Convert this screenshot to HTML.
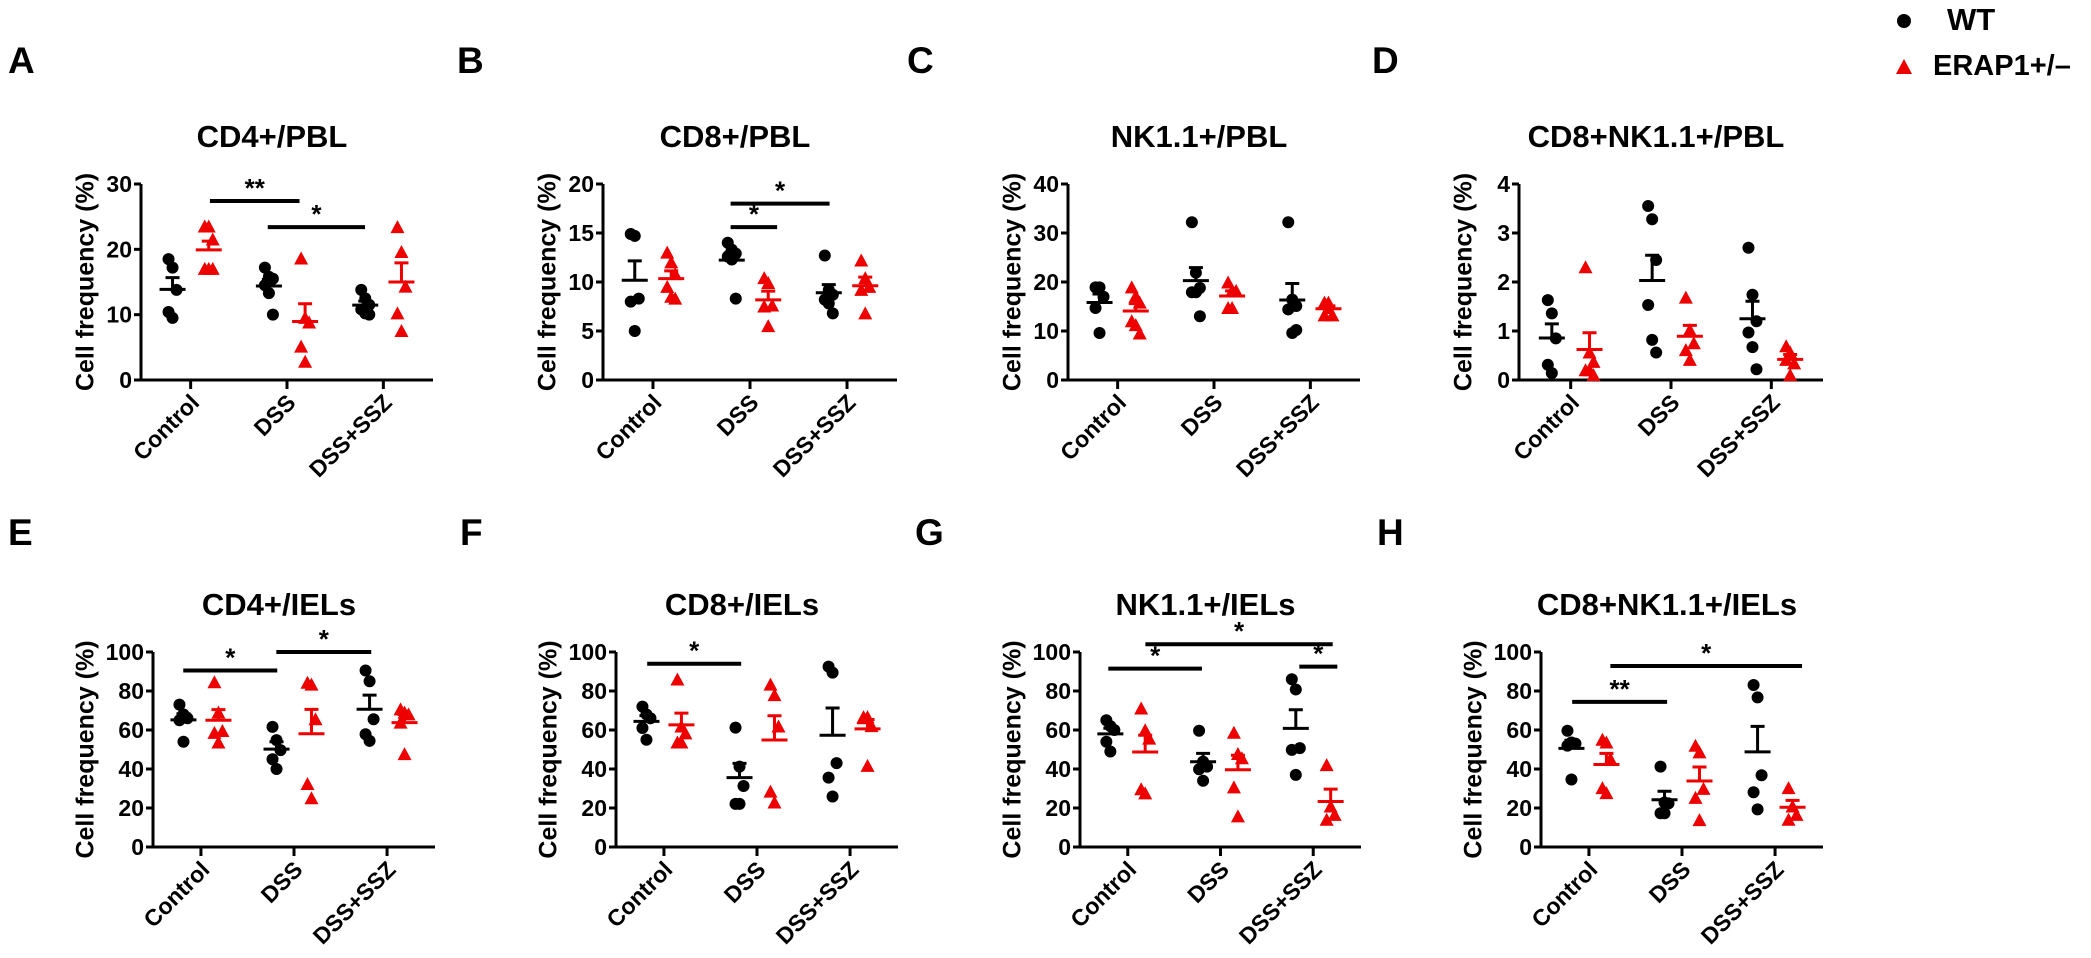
<!DOCTYPE html>
<html><head><meta charset="utf-8">
<style>
html,body{margin:0;padding:0;background:#fff;}
svg{display:block;font-family:"Liberation Sans",Arial,sans-serif;font-weight:bold;}
</style></head>
<body>
<svg id="fig" width="2091" height="958" viewBox="0 0 2091 958" xmlns="http://www.w3.org/2000/svg">
<g>
  <circle cx="1904" cy="21" r="7" fill="#000"/>
  <text x="1947" y="30" font-size="31">WT</text>
  <polygon points="1904,59 1912,74 1896,74" fill="#e00"/>
  <text x="1933" y="75" font-size="29">ERAP1+/–</text>
</g>
</svg>
<script>
// ---- data ----
const categories = ["Control","DSS","DSS+SSZ"];
const panelLetters = ["A","B","C","D","E","F","G","H"];
const panelTitles = ["CD4+/PBL","CD8+/PBL","NK1.1+/PBL","CD8+NK1.1+/PBL","CD4+/IELs","CD8+/IELs","NK1.1+/IELs","CD8+NK1.1+/IELs"];
const yMax = [30,20,40,4,100,100,100,100];
const yTickLabels = [["0","10","20","30"],["0","5","10","15","20"],["0","10","20","30","40"],["0","1","2","3","4"],
  ["0","20","40","60","80","100"],["0","20","40","60","80","100"],["0","20","40","60","80","100"],["0","20","40","60","80","100"]];
// WT values per panel, per category
const wtValues = [
  [[18.5,17.2,13.8,10.4,9.5],[17.2,15.8,15.5,14.5,13.3,10],[13.8,12.5,11.5,10.8,10.2,10]],
  [[14.9,14.7,8.3,8.0,5.0],[14,13.3,12.9,12.6,12.3,8.3],[12.7,9.2,8.7,8.2,7.8,6.8]],
  [[18.9,18.9,17,14.7,9.6],[32.2,21.9,18.8,17.9,17.9,13],[32.2,16.4,15.1,14.4,9.6,10.2]],
  [[1.63,1.36,0.85,0.31,0.14],[3.55,3.28,2.45,1.53,0.82,0.56],[2.7,1.74,1.2,0.97,0.67,0.22]],
  [[73,68,66,65,54],[61.6,54.8,49.7,45,40],[90.5,85,65.5,57.8,54.4]],
  [[72,68,66,61,55],[61.2,41.2,31.3,22.1,22.1],[92.5,89.4,43,35.6,25.9]],
  [[65,62,60,54,49],[59.6,43.8,41.2,39.9,34],[86,80.8,50.7,49.8,37]],
  [[59.6,53.6,53,52,34.6],[41.2,22.8,22.4,17.3,17.3],[83.1,76.7,36.8,28.1,19.3]]
];
// ERAP1+/- values per panel, per category
const erapValues = [
  [[23.5,23.5,21.5,17,17,17],[18.6,9.5,8.8,5.1,2.8],[23.4,19.6,14.3,10.2,7.5]],
  [[13,12,10.8,9.5,8.5,8.3],[10.4,9.9,7.6,7.5,5.5],[12.2,10.4,9.5,9.2,6.8]],
  [[18.9,17.1,15.8,12,11.2,9.5],[19.9,18.2,18.2,14.7,14.7],[15.8,15.8,13.2,13.2,14.7]],
  [[2.3,0.56,0.37,0.2,0.2,0.1],[1.68,1.02,0.75,0.61,0.41],[0.69,0.56,0.34,0.41,0.1]],
  [[84.5,68.9,59.5,58.5,53.6],[84.2,83.3,65.5,32.3,25],[70.6,68.9,68,63.8,47.6]],
  [[85.9,61.8,58.3,53.6,53.6],[83.3,77.9,61.8,28.4,22.8],[66.6,66.6,62,66,41.6]],
  [[71,59.9,55.6,29.6,27.5],[58.6,47.7,45.5,30.6,15.7],[42,20.8,16.5,14]],
  [[55,53.6,45.1,30.2,27.6],[51.9,48.5,29.8,25.2,13.8],[30.2,20.8,16.5,14]]
];
// significance bars: [fromCategoryPos, toCategoryPos, yValue, label]
const sigBars = [
  [[0.2,1.13,27.4,"**"],[0.8,1.81,23.4,"*"]],
  [[0.8,1.28,15.6,"*"],[0.8,1.82,18.0,"*"]],
  [],
  [],
  [[-0.19,0.82,90.5,"*"],[0.81,1.83,100,"*"]],
  [[-0.18,0.83,94,"*"]],
  [[-0.21,0.8,91.5,"*"],[0.19,2.21,104,"*"],[1.85,2.26,92.5,"*"]],
  [[-0.18,0.84,74.4,"**"],[0.23,2.29,92.8,"*"]]
];
// ---- layout ----
const NS="http://www.w3.org/2000/svg";
const svg=document.getElementById('fig');
const layout=[
  {x0:141,x1:433,yt:184,yb:380,lx:8,ly:73,tit:147,yl:54},
  {x0:603,x1:897,yt:184,yb:380,lx:457,ly:73,tit:147,yl:54},
  {x0:1068,x1:1360,yt:184,yb:380,lx:907,ly:73,tit:147,yl:54},
  {x0:1519,x1:1823,yt:184,yb:380,lx:1372,ly:73,tit:147,yl:54},
  {x0:153,x1:435,yt:652,yb:847,lx:8,ly:545,tit:615,yl:66},
  {x0:616,x1:898,yt:652,yb:847,lx:460,ly:545,tit:615,yl:66},
  {x0:1080,x1:1361,yt:652,yb:847,lx:915,ly:545,tit:615,yl:66},
  {x0:1541,x1:1823,yt:652,yb:847,lx:1377,ly:545,tit:615,yl:66}
];
function mk(tag,attrs,parent){const e=document.createElementNS(NS,tag);for(const k in attrs)e.setAttribute(k,attrs[k]);(parent||svg).appendChild(e);return e;}
function stats(a){const n=a.length;const m=a.reduce((s,v)=>s+v,0)/n;const sd=Math.sqrt(a.reduce((s,v)=>s+(v-m)*(v-m),0)/(n-1));return [m,sd/Math.sqrt(n)];}

layout.forEach((L,p)=>{
  const W=L.x1-L.x0;
  const xPos=c=>L.x0+W*(0.17+0.33*c);
  const yPos=v=>L.yb-(v/yMax[p])*(L.yb-L.yt);
  const off=W*0.062;
  const g=mk('g',{});
  
  
  let t=mk('text',{x:L.lx,y:L.ly,'font-size':37},g);t.textContent=panelLetters[p];
  
  t=mk('text',{x:(L.x0+L.x1)/2-15,y:L.tit,'font-size':31,'text-anchor':'middle'},g);t.textContent=panelTitles[p];
  
  // y axis title
  const ym=(L.yt+L.yb)/2;
  t=mk('text',{x:L.x0-L.yl,y:ym,'font-size':25,'text-anchor':'middle','dominant-baseline':'middle',transform:`rotate(-90 ${L.x0-L.yl} ${ym})`},g);
  t.textContent='Cell frequency (%)';
  
  // axes
  let a=mk('path',{d:`M${L.x0},${L.yt} V${L.yb} H${L.x1}`,stroke:'#000','stroke-width':3,fill:'none'},g);
  
  const ticks=yTickLabels[p];
  ticks.forEach((lab,i)=>{
    const v=yMax[p]*i/(ticks.length-1);const y=yPos(v);
    const tk=mk('line',{x1:L.x0-7,x2:L.x0,y1:y,y2:y,stroke:'#000','stroke-width':3},g);
    
    const tl=mk('text',{x:L.x0-9,y:y+8,'font-size':23,'text-anchor':'end'},g);tl.textContent=lab;
    
  });
  categories.forEach((c,ci)=>{
    const x=xPos(ci);
    const tk=mk('line',{x1:x,x2:x,y1:L.yb,y2:L.yb+9,stroke:'#000','stroke-width':3},g);
    
    const tl=mk('text',{x:x+10,y:L.yb+24,'font-size':23,'text-anchor':'end',transform:`rotate(-45 ${x+10} ${L.yb+24})`},g);tl.textContent=c;
    
    [[wtValues,-off,'#000','wt'],[erapValues,off,'#e00','erap']].forEach(([arr,dx,col,nm])=>{
      const vals=arr[p][ci];const cx=x+dx;
      vals.forEach((v,k)=>{
        const jit=((k%3)-1)*4;
        const y=yPos(v);let m;
        if(nm==='wt'){m=mk('circle',{cx:cx+jit,cy:y,r:6,fill:col},g);}
        else{m=mk('polygon',{points:`${cx+jit},${y-7} ${cx+jit+7},${y+6} ${cx+jit-7},${y+6}`,fill:col},g);}
        
      });
      const [mean,sem]=stats(vals);
      const ymn=yPos(mean),yse=yPos(mean+sem);
      const eb=mk('path',{d:`M${cx-13},${ymn} H${cx+13} M${cx},${ymn} V${yse} M${cx-7},${yse} H${cx+7}`,stroke:col,'stroke-width':3,fill:'none'},g);
      
    });
  });
  sigBars[p].forEach(s=>{
    const y=yPos(s[2]);
    const b=mk('line',{x1:xPos(s[0]),x2:xPos(s[1]),y1:y,y2:y,stroke:'#000','stroke-width':4},g);
    
    const st=mk('text',{x:(xPos(s[0])+xPos(s[1]))/2,y:y-4,'font-size':26,'text-anchor':'middle'},g);st.textContent=s[3];
    
  });
});
</script>
</body></html>
